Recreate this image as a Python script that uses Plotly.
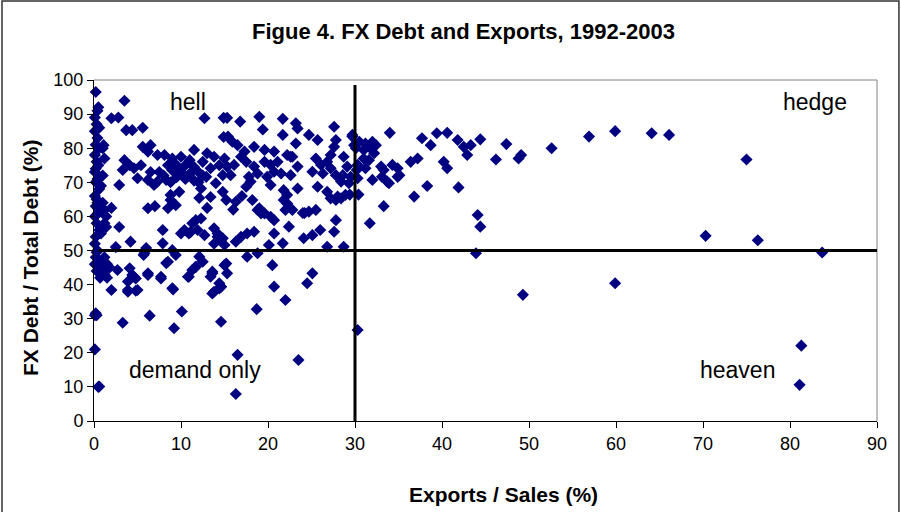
import plotly.graph_objects as go

# Exports / Sales (%) and FX Debt / Total Debt (%) per firm-year
exports_sales = [
    # left column near zero exports
    0.2, 0.5, 0.1, 0.3, 0.1, 0.4, 0.2, 0.6, 0.1, 0.3, 0.5, 0.1, 0.4, 0.2, 0.6, 0.1, 0.3, 0.2, 0.5, 0.1,
    0.3, 0.6, 0.2, 0.1, 0.4, 0.2, 0.6, 0.1, 0.8, 0.3, 1.1, 1.2, 0.7, 1.5, 0.1, 0.3, 0.1, 0.5, 1.0, 1.2,
    1.0, 0.8, 1.0, 1.4, 1.0, 1.2, 1.5, 1.2, 1.8, 0.4, 0.6, 0.2, 0.8, 0.3,
    # 1-8 % exports
    3.5, 2.0, 2.8, 3.7, 4.4, 5.6, 1.1, 5.6, 6.5, 6.2, 7.3, 8.1, 3.5, 4.1, 3.3, 4.6, 5.4, 5.0, 6.2, 7.3,
    8.3, 6.9, 2.9, 8.8, 9.8, 6.2, 8.5, 8.8, 9.4, 2.0, 1.2, 0.4, 1.4, 2.9, 7.9, 4.2, 6.0, 5.7, 7.9, 9.0,
    9.4, 8.3, 2.7, 4.1, 4.4, 3.9, 4.8, 5.0, 3.9, 6.2, 7.7, 2.0, 9.0, 3.3, 6.4, 10.1, 9.2, 0.2, 0.6, 3.9,
    4.8, 9.1, 4.6, 6.2, 7.7, 5.8, 8.5, 2.5, 7.0, 6.5,
    # 8-15 % exports
    12.7, 14.9, 14.9, 12.5, 13.8, 14.4, 13.4, 12.9, 14.8, 14.0, 12.3, 14.8, 9.0, 10.0, 11.0, 9.5, 10.5, 11.5, 9.0, 10.0,
    11.0, 12.0, 9.5, 10.5, 11.5, 8.8, 12.0, 12.5, 8.5, 7.5, 8.0, 12.1, 13.4, 13.0, 11.7, 12.3, 11.3, 10.4, 10.9, 11.9,
    12.7, 13.8, 14.2, 13.8, 14.8, 12.1, 12.5, 11.7, 11.3, 10.8, 13.6, 13.4, 14.4, 13.8, 10.9, 11.7, 13.6, 15.0, 13.6, 14.4,
    10.0, 11.1, 14.2, 14.6, 14.6, 14.6, 13.0, 11.5,
    # 15-30 % exports
    15.3, 16.8, 19.0, 21.7, 23.2, 23.4, 19.4, 27.6, 21.7, 15.4, 15.9, 16.5, 23.2, 24.7, 25.7, 27.8, 27.6, 29.7, 29.9, 18.4,
    19.6, 20.7, 22.2, 22.8, 17.3, 16.9, 17.5, 15.0, 15.3, 16.1, 15.7, 19.6, 20.3, 21.1, 20.7, 19.9, 21.5, 18.4, 18.8, 17.8,
    18.0, 17.5, 20.3, 22.6, 23.4, 22.6, 25.5, 26.1, 25.1, 26.3, 26.8, 27.2, 27.8, 27.2, 28.7, 29.1, 28.6, 29.5, 28.4, 29.3,
    23.4, 22.2, 21.8, 25.7, 26.8, 28.0, 15.2, 16.3, 18.2, 18.8, 19.2, 21.8, 22.2, 22.0, 22.8, 20.3, 20.7, 24.7, 25.5, 27.8,
    27.6, 27.8, 28.4, 22.4, 20.7, 17.6, 18.4, 16.9, 16.3, 15.0, 24.1, 25.1, 20.1, 21.7, 26.8, 28.7, 17.6, 18.8, 15.2, 15.3,
    20.5, 14.6, 25.1, 24.5, 20.7, 22.0, 30.3, 16.5, 23.5, 16.3, 18.7, 19.0, 19.6, 27.2, 28.9, 24.0, 16.0, 17.0, 24.2, 26.0,
    # above 29 % exports
    34.0, 29.7, 30.5, 31.2, 32.0, 32.4, 30.1, 31.0, 31.8, 32.2, 31.0, 31.6, 30.3, 31.2, 33.0, 33.3, 34.3, 34.9, 35.1, 30.3,
    32.0, 33.1, 33.7, 33.9, 34.9, 36.4, 37.2, 37.7, 38.7, 39.4, 40.6, 41.8, 42.5, 42.9, 43.3, 44.4, 40.2, 40.6, 46.2, 47.4,
    48.8, 49.1, 52.6, 38.3, 41.9, 36.8, 33.3, 29.4, 30.4, 31.7, 44.1, 44.4, 43.9, 56.9, 59.9, 64.1, 66.1, 75.0, 70.3, 76.3,
    83.7, 49.3, 59.9, 81.3, 81.1, 30.2,
]
fx_debt_share = [
    96.5, 92.0, 89.0, 87.0, 85.0, 83.0, 81.0, 80.0, 78.0, 76.0, 75.0, 73.0, 71.0, 70.0, 68.0, 66.0, 65.0, 63.0, 61.0, 60.0,
    58.0, 56.0, 54.0, 52.0, 50.0, 48.0, 47.0, 46.0, 45.0, 44.0, 44.0, 43.0, 42.0, 42.0, 31.0, 31.0, 21.0, 10.0, 80.0, 77.0,
    72.0, 69.0, 64.0, 60.0, 62.0, 58.0, 46.0, 48.0, 45.0, 91.0, 86.0, 74.0, 55.0, 49.5,
    93.9, 88.8, 89.0, 85.3, 85.3, 86.0, 80.9, 80.4, 80.9, 79.0, 78.0, 78.0, 76.5, 75.0, 73.6, 74.1, 75.0, 71.2, 70.7, 70.2,
    70.7, 69.2, 69.2, 66.3, 67.2, 62.4, 62.4, 64.8, 63.3, 62.5, 61.9, 64.0, 56.9, 56.9, 56.0, 52.6, 50.7, 48.7, 52.1, 50.1,
    48.7, 46.3, 44.3, 44.8, 42.8, 40.9, 41.8, 38.4, 37.9, 42.8, 42.3, 38.4, 38.9, 28.8, 30.9, 32.1, 27.2, 31.6, 10.1, 38.4,
    38.2, 38.6, 42.3, 43.3, 41.8, 49.2, 46.7, 51.0, 63.0, 73.0,
    88.8, 88.9, 83.3, 76.0, 77.5, 75.0, 74.1, 71.6, 72.1, 69.7, 68.2, 67.2, 77.0, 77.5, 76.5, 75.0, 75.0, 74.5, 73.5, 73.0,
    72.5, 73.0, 71.5, 71.0, 70.5, 70.0, 70.0, 72.0, 75.0, 73.0, 72.0, 65.4, 65.7, 62.5, 58.9, 59.4, 58.0, 56.0, 55.0, 56.0,
    54.5, 56.5, 54.0, 52.0, 53.6, 48.2, 46.7, 45.2, 44.3, 42.3, 43.8, 42.3, 40.4, 37.9, 42.3, 45.2, 43.3, 45.7, 37.4, 38.9,
    55.0, 55.4, 55.0, 53.1, 39.4, 29.1, 78.5, 79.5,
    88.9, 87.8, 89.2, 88.6, 87.3, 85.8, 85.5, 86.3, 83.9, 83.4, 81.9, 80.9, 81.4, 83.9, 82.4, 82.4, 80.4, 83.4, 80.9, 80.4,
    79.5, 79.0, 78.0, 77.5, 79.0, 77.5, 76.0, 77.0, 74.6, 75.1, 72.1, 76.0, 75.1, 76.0, 73.1, 71.6, 72.6, 74.6, 72.6, 71.6,
    70.2, 68.7, 69.2, 77.5, 74.6, 72.1, 77.0, 75.1, 73.1, 72.6, 76.0, 74.1, 72.1, 78.0, 77.5, 74.6, 72.1, 71.6, 70.2, 69.7,
    68.2, 66.3, 67.7, 68.7, 67.2, 65.8, 64.8, 64.3, 64.8, 61.9, 60.9, 64.8, 63.8, 61.9, 61.9, 59.9, 58.9, 61.4, 61.9, 58.9,
    55.5, 64.8, 65.3, 57.0, 55.0, 55.0, 55.5, 54.0, 52.6, 51.6, 53.6, 54.5, 51.6, 52.1, 51.1, 51.1, 48.2, 49.2, 46.2, 43.3,
    45.7, 39.4, 43.3, 40.4, 39.4, 35.5, 26.7, 19.4, 17.9, 7.9, 32.8, 62.4, 60.9, 65.3, 66.3, 61.0, 62.0, 66.0, 61.0, 56.0,
    84.5, 83.9, 81.9, 81.4, 81.9, 80.9, 80.0, 79.5, 80.0, 78.5, 77.0, 76.5, 75.1, 74.1, 74.6, 73.6, 75.1, 74.1, 72.1, 71.2,
    70.7, 71.6, 70.2, 69.7, 71.6, 76.0, 77.0, 82.9, 80.9, 84.4, 84.5, 82.4, 80.4, 78.0, 80.9, 82.6, 76.0, 74.1, 76.7, 81.2,
    77.0, 78.0, 80.0, 68.9, 68.5, 65.8, 63.0, 66.4, 66.4, 58.0, 60.4, 57.0, 49.2, 83.4, 85.0, 84.4, 83.9, 76.7, 54.3, 53.0,
    49.4, 37.0, 40.4, 22.1, 10.6, 73.6,
]

quadrant_labels = ["hell", "hedge", "demand only", "heaven"]
quadrant_x = [10.8, 82.9, 11.6, 74.0]
quadrant_y = [93.6, 93.6, 15.0, 15.0]

x_ticks = list(range(0, 91, 10))
y_ticks = list(range(0, 101, 10))
export_threshold = 30
fx_threshold = 50

FONT = "Liberation Sans, Arial, sans-serif"

fig = go.Figure()
fig.add_trace(go.Scatter(
    x=exports_sales, y=fx_debt_share, mode="markers",
    marker=dict(symbol="diamond", size=9.3, color="#000080", line=dict(width=0)),
    showlegend=False, cliponaxis=False, hoverinfo="skip",
))

shapes = [
    # gray top/right plot border
    dict(type="line", xref="paper", yref="paper", x0=0, x1=1, y0=1, y1=1, line=dict(color="#808080", width=1)),
    dict(type="line", xref="paper", yref="paper", x0=1, x1=1, y0=0, y1=1, line=dict(color="#808080", width=1)),
    # quadrant dividers
    dict(type="line", xref="x", yref="y", x0=export_threshold, x1=export_threshold, y0=-0.6, y1=98.5,
         line=dict(color="black", width=3)),
    dict(type="line", xref="x", yref="y", x0=0.5, x1=90, y0=fx_threshold, y1=fx_threshold,
         line=dict(color="black", width=3)),
    # outer chart frame
    dict(type="rect", xref="paper", yref="paper", x0=-0.1175, x1=1.028, y0=-0.32, y1=1.2317,
         line=dict(color="#333333", width=1.5), fillcolor="rgba(0,0,0,0)", layer="below"),
]

annotations = [
    dict(text="<b>Figue 4. FX Debt and Exports, 1992-2003</b>", xref="paper", yref="paper",
         x=0.4713, y=1.1408, xanchor="center", yanchor="middle", showarrow=False,
         font=dict(size=22, color="black", family=FONT)),
    dict(text="<b>Exports / Sales (%)</b>", xref="paper", yref="paper",
         x=0.5236, y=-0.217, xanchor="center", yanchor="middle", showarrow=False,
         font=dict(size=21, color="black", family=FONT)),
    dict(text="<b>FX Debt / Total Debt (%)</b>", xref="paper", yref="paper",
         x=-0.0817, y=0.478, xanchor="center", yanchor="middle", showarrow=False, textangle=-90,
         font=dict(size=21, color="black", family=FONT)),
]
for t, qx, qy in zip(quadrant_labels, quadrant_x, quadrant_y):
    annotations.append(dict(text=t, x=qx, y=qy, xref="x", yref="y", showarrow=False,
                            xanchor="center", yanchor="middle",
                            font=dict(size=23, color="black", family=FONT)))

fig.update_layout(
    width=901, height=512,
    margin=dict(l=94, r=24, t=80, b=91),
    paper_bgcolor="white", plot_bgcolor="white",
    font=dict(family=FONT, size=18, color="black"),
    shapes=shapes, annotations=annotations,
    hovermode=False,
    xaxis=dict(range=[0, 90], tickvals=x_ticks, ticks="outside", ticklen=6, tickcolor="black",
               showline=True, linecolor="black", linewidth=1, showgrid=False, zeroline=False,
               tickfont=dict(size=18), fixedrange=True),
    yaxis=dict(range=[0, 100], tickvals=y_ticks, ticks="outside", ticklen=6, tickcolor="black",
               showline=True, linecolor="black", linewidth=1, showgrid=False, zeroline=False,
               tickfont=dict(size=18), fixedrange=True),
)

fig.write_html("out.html", config={"displayModeBar": False},
               post_script="document.body.style.margin='0';document.body.style.padding='0';")
